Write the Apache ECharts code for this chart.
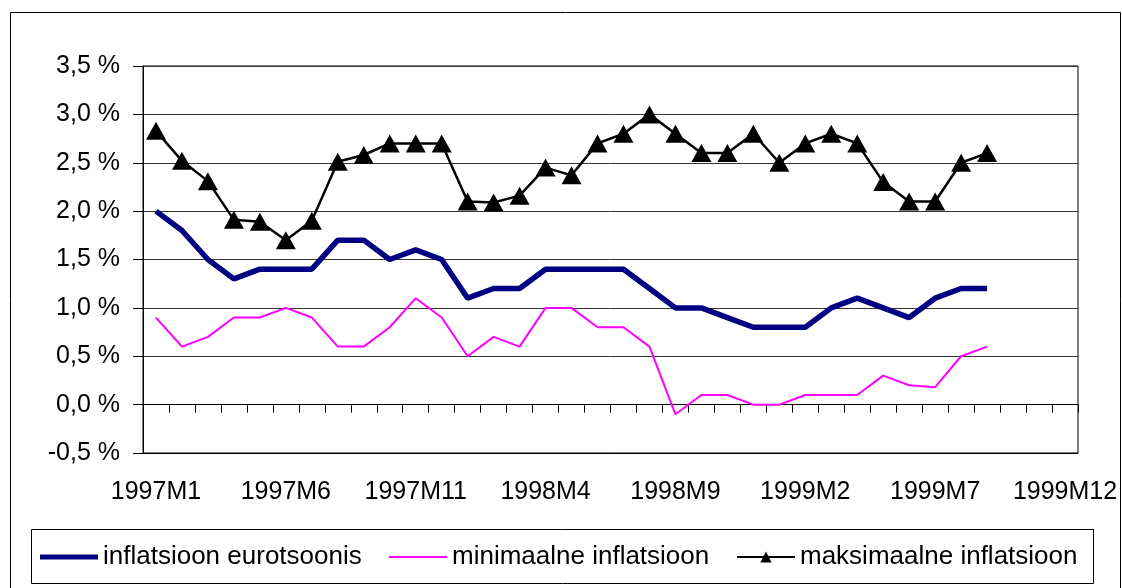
<!DOCTYPE html>
<html>
<head>
<meta charset="utf-8">
<script src="https://cdn.jsdelivr.net/npm/echarts@6/dist/echarts.min.js"></script>
<style>
  html, body { margin: 0; padding: 0; background: #fff; }
  #chart { width: 1122px; height: 588px; }
</style>
</head>
<body>
<div id="chart"></div>
<script>
// kuud 1997M1 ... 1999M12
var months = [
  '1997M1', '1997M2', '1997M3', '1997M4', '1997M5', '1997M6', '1997M7', '1997M8', '1997M9', '1997M10', '1997M11', '1997M12',
  '1998M1', '1998M2', '1998M3', '1998M4', '1998M5', '1998M6', '1998M7', '1998M8', '1998M9', '1998M10', '1998M11', '1998M12',
  '1999M1', '1999M2', '1999M3', '1999M4', '1999M5', '1999M6', '1999M7', '1999M8', '1999M9', '1999M10', '1999M11', '1999M12'
];

var euroInflation = [2.0, 1.8, 1.5, 1.3, 1.4, 1.4, 1.4, 1.7, 1.7, 1.5, 1.6, 1.5,
  1.1, 1.2, 1.2, 1.4, 1.4, 1.4, 1.4, 1.2, 1.0, 1.0, 0.9, 0.8,
  0.8, 0.8, 1.0, 1.1, 1.0, 0.9, 1.1, 1.2, 1.2];

var minInflation = [0.9, 0.6, 0.7, 0.9, 0.9, 1.0, 0.9, 0.6, 0.6, 0.8, 1.1, 0.9,
  0.5, 0.7, 0.6, 1.0, 1.0, 0.8, 0.8, 0.6, -0.1, 0.1, 0.1, 0.0,
  0.0, 0.1, 0.1, 0.1, 0.3, 0.2, 0.18, 0.5, 0.6];

var maxInflation = [2.83, 2.52, 2.31, 1.91, 1.89, 1.7, 1.9, 2.51, 2.58, 2.7, 2.7, 2.7,
  2.1, 2.09, 2.16, 2.45, 2.37, 2.7, 2.8, 3.0, 2.8, 2.6, 2.6, 2.8,
  2.5, 2.7, 2.8, 2.7, 2.3, 2.1, 2.1, 2.5, 2.6];

var names = ['inflatsioon eurotsoonis', 'minimaalne inflatsioon', 'maksimaalne inflatsioon'];

var font = '"Liberation Sans", Arial, sans-serif';
var chart = echarts.init(document.getElementById('chart'));

function legendAt(item, left, itemHeight) {
  return {
    data: [item],
    left: left,
    top: 557 - 13,
    height: 26,
    itemWidth: 58,
    itemHeight: itemHeight,
    itemGap: 0,
    padding: 0,
    selectedMode: false,
    textStyle: { fontFamily: font, fontSize: 26, color: '#000', lineHeight: 26 }
  };
}

chart.setOption({
  animation: false,
  backgroundColor: '#fff',
  textStyle: { fontFamily: font },
  grid: {
    left: 143,
    right: 44,
    top: 66,
    bottom: 135,
    show: true,
    borderColor: '#000',
    borderWidth: 1
  },
  legend: [
    legendAt({ name: names[0], icon: 'rect' }, 40, 5),
    legendAt({ name: names[1], icon: 'rect' }, 389, 2),
    legendAt(names[2], 736, 14)
  ],
  graphic: [
    // välimine raam
    { type: 'rect', silent: true, shape: { x: 10.5, y: 12.5, width: 1110, height: 600 },
      style: { fill: 'none', stroke: '#000', lineWidth: 1 } },
    // legendi kast
    { type: 'rect', silent: true, shape: { x: 31.5, y: 529.5, width: 1062, height: 54 },
      style: { fill: 'none', stroke: '#000', lineWidth: 1 } }
  ],
  xAxis: [
    {
      type: 'category',
      data: months,
      position: 'bottom',
      axisLine: { onZero: false, lineStyle: { color: '#000' } },
      axisTick: { show: false },
      axisLabel: { interval: 4, margin: 27, fontSize: 25, color: '#000', fontFamily: font },
      splitLine: { show: false }
    },
    {
      // nulljoon koos kriipsudega
      type: 'category',
      data: months,
      position: 'bottom',
      axisLine: { onZero: true, lineStyle: { color: '#000' } },
      axisTick: { show: true, interval: 0, length: 8, lineStyle: { color: '#000' } },
      axisLabel: { show: false },
      splitLine: { show: false }
    }
  ],
  yAxis: {
    type: 'value',
    min: -0.5,
    max: 3.5,
    interval: 0.5,
    axisLine: { show: true, lineStyle: { color: '#000' } },
    axisTick: { show: true, length: 10, lineStyle: { color: '#000' } },
    axisLabel: {
      margin: 23,
      fontSize: 25,
      color: '#000',
      fontFamily: font,
      formatter: function (v) { return v.toFixed(1).replace('.', ',') + ' %'; }
    },
    splitLine: { show: true, lineStyle: { color: '#333', width: 1 } }
  },
  series: [
    {
      name: names[0],
      type: 'line',
      data: euroInflation,
      symbol: 'none',
      itemStyle: { color: '#000080' },
      lineStyle: { color: '#000080', width: 5.5 },
      z: 3
    },
    {
      name: names[1],
      type: 'line',
      data: minInflation,
      symbol: 'none',
      itemStyle: { color: '#ff00ff' },
      lineStyle: { color: '#ff00ff', width: 2 },
      z: 2
    },
    {
      name: names[2],
      type: 'line',
      data: maxInflation,
      symbol: 'triangle',
      symbolSize: [20, 18],
      showAllSymbol: true,
      itemStyle: { color: '#000' },
      lineStyle: { color: '#000', width: 2.5 },
      z: 4
    }
  ]
});
</script>
</body>
</html>
